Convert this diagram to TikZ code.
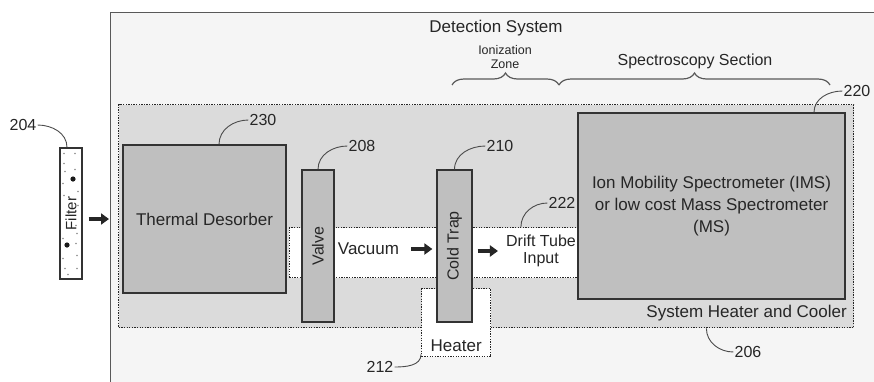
\documentclass[tikz,border=0pt]{standalone}
\usepackage{fontspec}
\setmainfont{Liberation Sans}
\usepackage{graphicx}
\usepackage{xcolor}
\usepackage{tikz}
\usetikzlibrary{positioning,arrows.meta,decorations.pathreplacing}

\begin{document}
\begin{tikzpicture}[x=1pt, y=1pt, sysbox/.style={draw=black!65, line width=1.4pt, fill=black!4, inner sep=0pt}, dotbox/.style={draw=black!85, line width=1.4pt, dash pattern=on 1.3pt off 1.3pt, inner sep=0pt}, block/.style={draw=black!80, line width=1.3pt, fill=black!25, inner sep=0pt, align=center, text=black!85, font=\fontsize{17}{22}\selectfont}, slim/.style={block, font=\fontsize{16}{16}\selectfont}, filterbox/.style={draw=black!80, line width=1.2pt, fill=white, inner sep=0pt, text=black!85, font=\fontsize{15}{15}\selectfont}, txt/.style={inner sep=2pt, align=center, text=black!85, font=\fontsize{17}{17}\selectfont}, num/.style={inner sep=1pt, text=black!85, font=\fontsize{16}{16}\selectfont}, leader/.style={draw=black!70, line width=0.9pt}, flow/.style={-{Triangle[length=8pt,width=11pt]}, line width=3.5pt, black!85}, brace/.style={decorate, decoration={brace, amplitude=12pt}, draw=black!65, line width=1.2pt}]
\useasboundingbox (0,0) rectangle (874,-381);
\node[sysbox, minimum width=780pt, minimum height=390pt, anchor=north west] (detsys) at (110,-12) {};
\node[txt] (dstitle) at (496,-28) {Detection System};
\node[txt, font=\fontsize{12.5}{14}\selectfont] (ionzone) at (505,-57) {Ionization\\Zone};
\node[txt, font=\fontsize{16}{16}\selectfont] (specsec) at (695,-61) {Spectroscopy Section};
\draw[brace] (452,-85) -- (559,-85);
\draw[brace] (559,-85) -- (830,-85);
\node[dotbox, fill=black!14, minimum width=735pt, minimum height=223pt, anchor=north west] (heatcool) at (118,-104) {};
\node[txt, anchor=east] (shclabel) at (849,-313) {System Heater and Cooler};
\node[dotbox, fill=white, minimum width=290pt, minimum height=50pt, anchor=north west] (channel) at (288.5,-227) {};
\node[dotbox, fill=white, minimum width=69pt, minimum height=68pt, anchor=north west] (heater) at (421,-288) {};
\node[txt, above=4pt of heater.south] (heatertxt) {Heater};
\node[block, minimum width=163pt, minimum height=148pt] (desorber) at (204.5,-219) {Thermal Desorber};
\node[slim, minimum width=32pt, minimum height=152pt] (valve) at (318,-246) {\rotatebox{90}{Valve}};
\node[slim, minimum width=35pt, minimum height=152pt] (coldtrap) at (454.5,-246) {\rotatebox{90}{Cold Trap}};
\node[block, minimum width=267pt, minimum height=186pt] (ims) at (711.5,-206) {Ion Mobility Spectrometer (IMS)\\or low cost Mass Spectrometer\\(MS)};
\node[txt] (vaclabel) at (368.5,-249) {Vacuum};
\node[txt, font=\fontsize{16}{17}\selectfont] (driftlabel) at (541,-251) {Drift Tube\\Input};
\node[filterbox, minimum width=22pt, minimum height=131pt] (filter) at (71,-213.5) {\rotatebox{90}{Filter}};
\foreach \dx/\dy in {-7/50, 4/60, -6/42, 4/44, -8/-25, 5/-30, 6/-55, -6/-55, -3/-61, 6/-42, -8/-45, 5/-12, 7/22, -7/18, -7/60, 7/8, -8/30, 6/-20}
  \fill[black!45] ([shift={(\dx,\dy)}]filter.center) circle (0.8);
\fill[black!90] ([shift={(2,34.5)}]filter.center) circle (2.6);
\fill[black!90] ([shift={(-4,-31.5)}]filter.center) circle (2.6);
\draw[flow, shorten <=6pt, shorten >=1pt] ([yshift=-5.5pt]filter.east) -- ([yshift=-5.5pt]filter.east -| detsys.west);
\draw[flow, shorten <=10pt, shorten >=4pt] (vaclabel.east) -- (vaclabel.east -| coldtrap.west);
\draw[flow, shorten <=5pt, shorten >=6pt] (coldtrap.east |- driftlabel) -- (driftlabel.west);
\node[num] (n204) at (23,-125) {204};
\node[num] (n230) at (263,-120) {230};
\node[num] (n208) at (362,-146) {208};
\node[num] (n210) at (500,-146) {210};
\node[num] (n220) at (857,-91) {220};
\node[num] (n222) at (562,-203) {222};
\node[num] (n212) at (380,-367) {212};
\node[num] (n206) at (748,-352) {206};
\draw[leader] (n204.east) to[out=0, in=90] ([xshift=-4pt]filter.north);
\draw[leader] (n230.west) to[out=180, in=90] ([xshift=14.5pt]desorber.north);
\draw[leader] (n208.west) to[out=180, in=90] (valve.north);
\draw[leader] (n210.west) to[out=180, in=90] (coldtrap.north);
\draw[leader] (n220.west) to[out=180, in=90] ([xshift=102.5pt]ims.north);
\draw[leader] (n222.west) to[out=180, in=90] ([xshift=-59pt]channel.north east);
\draw[leader] (n212.east) to[out=0, in=-90] ([yshift=3pt]heater.south west);
\draw[leader] (n206.west) to[out=180, in=-90] ([xshift=-148pt]heatcool.south east);
\end{tikzpicture}
\end{document}
